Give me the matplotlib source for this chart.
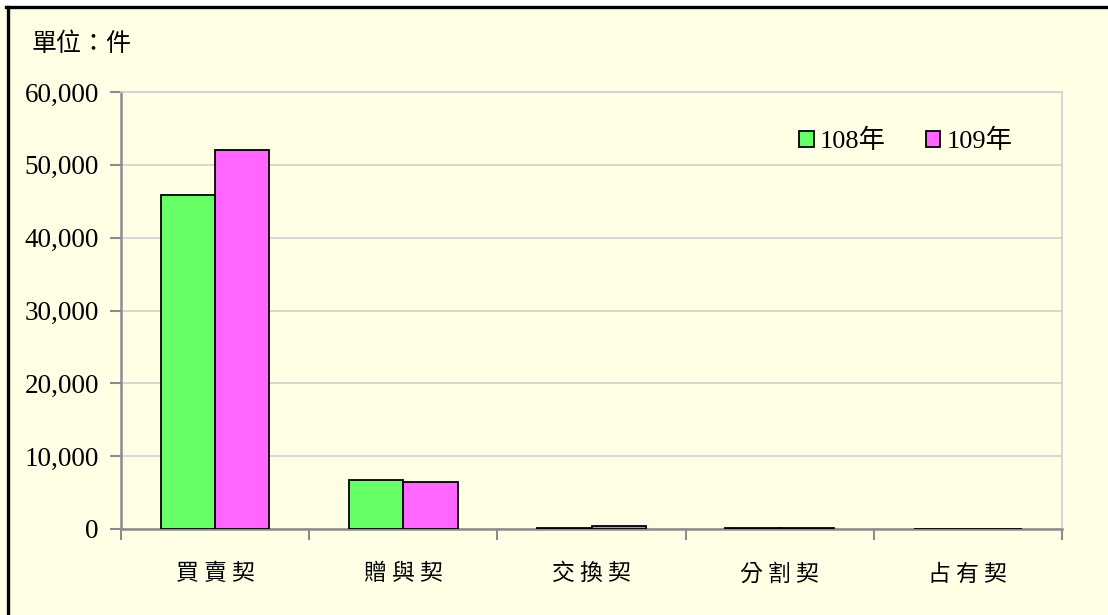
import matplotlib
matplotlib.use("Agg")
import matplotlib.pyplot as plt
import numpy as np
from matplotlib.ticker import FuncFormatter
from matplotlib.lines import Line2D
from matplotlib.patches import Rectangle

categories = ["買賣契", "贈與契", "交換契", "分割契", "占有契"]
series_names = ["108年", "109年"]
counts_108 = [45800, 6750, 180, 90, 10]
counts_109 = [52100, 6450, 380, 80, 50]
y_ticks = [0, 10000, 20000, 30000, 40000, 50000, 60000]

BG = "#FFFFE6"
GREEN = "#66FF66"
PINK = "#FF66FF"
SERIF = ["Liberation Serif", "Noto Sans CJK TC"]
CJK = ["Noto Sans CJK TC", "DejaVu Sans"]

W, H = 1108, 615
fig = plt.figure(figsize=(W / 100, H / 100), dpi=100, facecolor="white")

# yellow panel with black left/top frame (rest is cropped off)
fig.patches.append(Rectangle((0, 0), 1, 1 - 6 / H, transform=fig.transFigure,
                             facecolor=BG, edgecolor="none", zorder=-5))
fig.lines.append(Line2D([7.5 / W, 7.5 / W], [0, 1 - 6.5 / H], transform=fig.transFigure,
                        color="black", lw=2.4))
fig.lines.append(Line2D([6 / W, 1], [1 - 6.5 / H, 1 - 6.5 / H], transform=fig.transFigure,
                        color="black", lw=2.4))

ax = fig.add_axes([121 / W, 1 - 529 / H, (1062 - 121) / W, (529 - 92) / H])
ax.set_facecolor(BG)

x = np.arange(len(categories))
bw = 0.289
ax.bar(x - bw / 2, counts_108, bw, color=GREEN, edgecolor="black", lw=1.3,
       label=series_names[0], zorder=3)
ax.bar(x + bw / 2, counts_109, bw, color=PINK, edgecolor="black", lw=1.3,
       label=series_names[1], zorder=3)

ax.set_xlim(-0.5, len(categories) - 0.5)
ax.set_ylim(0, 60000)
ax.set_yticks(y_ticks)
ax.yaxis.set_major_formatter(FuncFormatter(lambda v, p: f"{int(v):,}"))
ax.grid(axis="y", color="#D0D0D0", lw=1.2, zorder=0)

ax.set_xticks(np.arange(len(categories) + 1) - 0.5)
ax.set_xticklabels([])
ax.set_xticks(x, minor=True)
ax.set_xticklabels([" ".join(c) for c in categories], minor=True, family=CJK, fontsize=16.5)
ax.tick_params(axis="x", which="minor", length=0, pad=24)
ax.tick_params(axis="x", which="major", length=8, width=1.5, color="#8C8C8C")
ax.tick_params(axis="y", length=8, width=1.5, color="#8C8C8C", pad=8)
for lab in ax.get_yticklabels():
    lab.set_family(SERIF)
    lab.set_fontsize(19.5)

for s in ["left", "bottom"]:
    ax.spines[s].set_color("#8C8C8C")
    ax.spines[s].set_linewidth(1.8)
for s in ["top", "right"]:
    ax.spines[s].set_color("#D0D0D0")
    ax.spines[s].set_linewidth(1.2)

leg = ax.legend(loc="upper left", bbox_to_anchor=(799 / W, 1 - 129 / H),
                bbox_transform=fig.transFigure, ncol=2, frameon=False,
                borderaxespad=0, borderpad=0,
                prop={"family": SERIF, "size": 19}, handlelength=0.55, handleheight=0.55,
                handletextpad=0.25, columnspacing=1.5)

fig.text(32 / W, 1 - 44 / H, "單位：件", family=CJK, fontsize=18, va="center", ha="left")

fig.savefig("out.png", dpi=100, facecolor=fig.get_facecolor())
